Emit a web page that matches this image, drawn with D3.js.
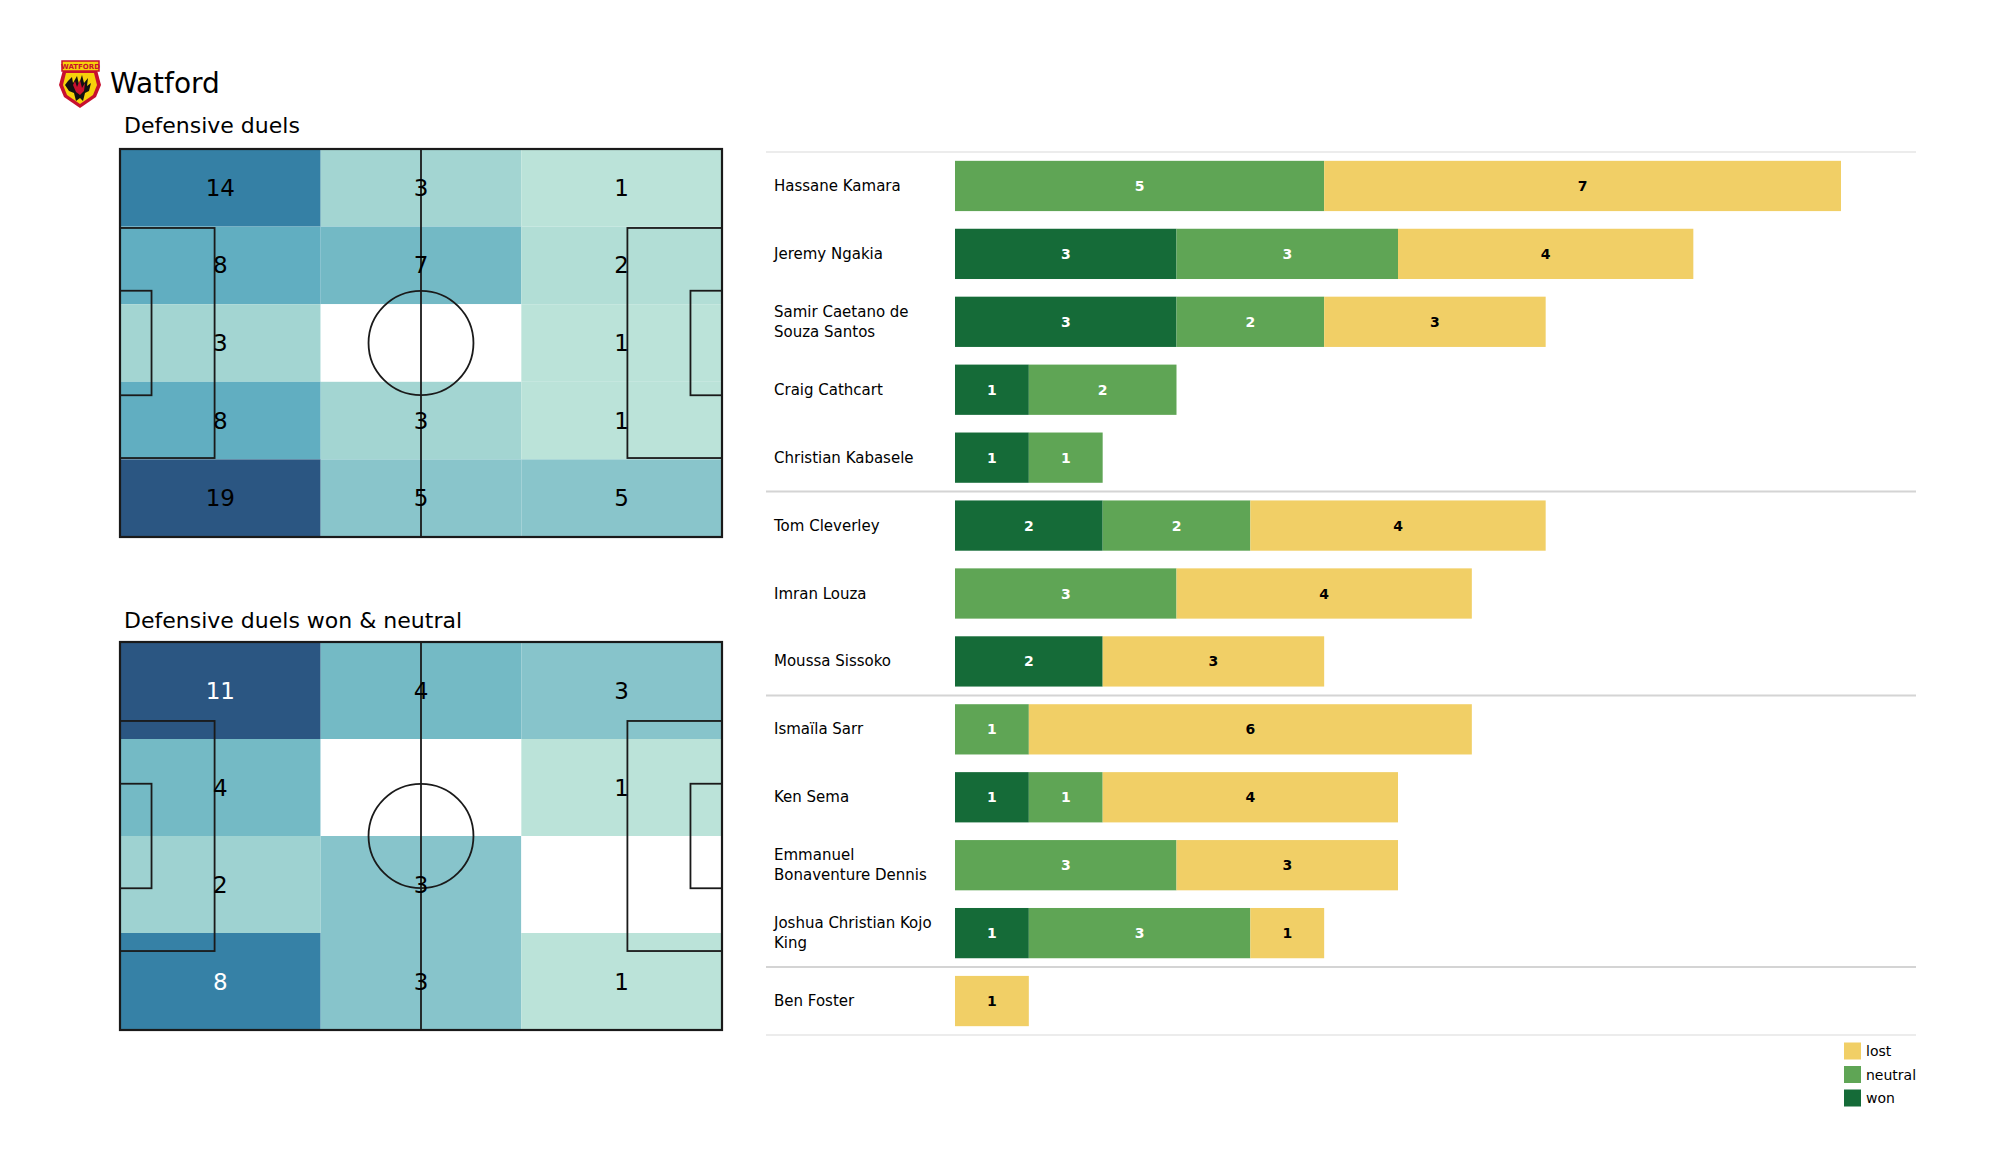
<!DOCTYPE html>
<html>
<head>
<meta charset="utf-8">
<script src="https://cdn.jsdelivr.net/npm/d3@7/dist/d3.min.js"></script>
<style>
  html, body { margin: 0; padding: 0; background: #ffffff; }
  svg { display: block; font-family: "DejaVu Sans", sans-serif; }
</style>
</head>
<body>
<svg id="chart" width="2000" height="1175"></svg>
<script>
// ---------------- DATA ----------------
const teamName = "Watford";
const heatTitle1 = "Defensive duels";
const heatTitle2 = "Defensive duels won & neutral";

// Heatmap 1: 5 rows (top to bottom) x 3 columns (left to right)
const duelsGrid = [
  [14, 3, 1],
  [8, 7, 2],
  [3, 0, 1],
  [8, 3, 1],
  [19, 5, 5]
];
// Heatmap 2: 4 rows x 3 columns
const wonNeutralGrid = [
  [11, 4, 3],
  [4, 0, 1],
  [2, 3, 0],
  [8, 3, 1]
];

const players = [
  "Hassane Kamara", "Jeremy Ngakia", "Samir Caetano de Souza Santos", "Craig Cathcart",
  "Christian Kabasele", "Tom Cleverley", "Imran Louza", "Moussa Sissoko",
  "Ismaïla Sarr", "Ken Sema", "Emmanuel Bonaventure Dennis", "Joshua Christian Kojo King",
  "Ben Foster"
];
const playerLabels = [
  "Hassane Kamara", "Jeremy Ngakia", "Samir Caetano de\nSouza Santos", "Craig Cathcart",
  "Christian Kabasele", "Tom Cleverley", "Imran Louza", "Moussa Sissoko",
  "Ismaïla Sarr", "Ken Sema", "Emmanuel\nBonaventure Dennis", "Joshua Christian Kojo\nKing",
  "Ben Foster"
];
const positions = ["DEF","DEF","DEF","DEF","DEF","MID","MID","MID","FWD","FWD","FWD","FWD","GK"];
const wonValues     = [0, 3, 3, 1, 1, 2, 0, 2, 0, 1, 0, 1, 0];
const neutralValues = [5, 3, 2, 2, 1, 2, 3, 0, 1, 1, 3, 3, 0];
const lostValues    = [7, 4, 3, 0, 0, 4, 4, 3, 6, 4, 3, 1, 1];
const seriesKeys = ["won", "neutral", "lost"];
const legendOrder = ["lost", "neutral", "won"];

// ---------------- STYLE ----------------
const segColors = { won: "#156b38", neutral: "#5fa555", lost: "#f1cf66" };
const segText = { won: "#ffffff", neutral: "#ffffff", lost: "#000000" };
const heatColor = d3.scaleLinear()
  .domain([0.05, 0.095, 0.11, 0.16, 0.265, 0.365, 0.42, 0.735, 1.0])
  .range(["#bbe3d9", "#bbe3d9", "#aedbd5", "#a3d5d2", "#89c5cb", "#74bac5", "#61aec1", "#3580a5", "#2b5682"])
  .clamp(true);

const svg = d3.select("#chart");

// ---------------- HEADER / LOGO ----------------
const logo = svg.append("g").attr("transform", "translate(59,61)");
logo.append("path")
  .attr("d", "M4,9 L38,9 L42,24 L37,36 L21,47 L5,36 L0,24 Z")
  .attr("fill", "#c8102e");
logo.append("path")
  .attr("d", "M7,12 L35,12 L38,24 L34,34 L21,43 L8,34 L4,24 Z")
  .attr("fill", "#f6d20b");
logo.append("path")
  .attr("d", "M9,20 L13,16 L14,22 L18,15 L20,23 L23,14 L25,22 L29,17 L28,25 L32,22 L30,30 L26,32 L24,40 L21,37 L17,40 L15,32 L10,30 L6,24 Z")
  .attr("fill", "#111111");
logo.append("path")
  .attr("d", "M14,24 L16,20 L18,26 L21,19 L23,27 L26,22 L25,30 L21,34 L17,31 Z")
  .attr("fill", "#c8102e");
logo.append("rect").attr("x", 3).attr("y", 0).attr("width", 37).attr("height", 10)
  .attr("fill", "#f6d20b").attr("stroke", "#c8102e").attr("stroke-width", 1.5);
logo.append("text").attr("x", 21.5).attr("y", 8).attr("text-anchor", "middle")
  .attr("font-size", 7).attr("font-weight", "bold").attr("fill", "#c8102e").text("WATFORD");

svg.append("text").attr("x", 110).attr("y", 93)
  .attr("font-size", 28).attr("fill", "#000").text(teamName);

// ---------------- PITCH HEATMAPS ----------------
function drawPitch(grid, top, bottom, title, titleY, whiteThreshold) {
  const x = d3.scaleLinear().domain([0, 105]).range([120, 722]);
  const y = d3.scaleLinear().domain([0, 68]).range([top, bottom]);
  const g = svg.append("g");
  const nRows = grid.length, nCols = grid[0].length;
  const maxV = d3.max(grid.flat());
  const cells = [];
  grid.forEach((row, r) => row.forEach((v, c) => cells.push({ r, c, v })));
  const cw = 105 / nCols, ch = 68 / nRows;

  g.selectAll("rect.cell").data(cells).join("rect")
    .attr("class", "cell")
    .attr("x", d => x(d.c * cw))
    .attr("y", d => y(d.r * ch))
    .attr("width", x(cw) - x(0))
    .attr("height", y(ch) - y(0))
    .attr("fill", d => d.v === 0 ? "#ffffff" : heatColor(d.v / maxV));

  const line = "#1a1a1a";
  const lw = 1.8;
  // outline
  g.append("rect").attr("x", x(0)).attr("y", y(0))
    .attr("width", x(105) - x(0)).attr("height", y(68) - y(0))
    .attr("fill", "none").attr("stroke", line).attr("stroke-width", 2.2);
  // halfway line
  g.append("line").attr("x1", x(52.5)).attr("x2", x(52.5)).attr("y1", y(0)).attr("y2", y(68))
    .attr("stroke", line).attr("stroke-width", lw);
  // centre circle
  g.append("ellipse").attr("cx", x(52.5)).attr("cy", y(34))
    .attr("rx", x(9.15) - x(0)).attr("ry", y(9.15) - y(0))
    .attr("fill", "none").attr("stroke", line).attr("stroke-width", lw);
  // boxes
  const boxes = [
    [0, 13.84, 16.5, 54.16], [0, 24.84, 5.5, 43.16],
    [88.5, 13.84, 105, 54.16], [99.5, 24.84, 105, 43.16]
  ];
  g.selectAll("rect.box").data(boxes).join("rect")
    .attr("class", "box")
    .attr("x", d => x(d[0])).attr("y", d => y(d[1]))
    .attr("width", d => x(d[2]) - x(d[0])).attr("height", d => y(d[3]) - y(d[1]))
    .attr("fill", "none").attr("stroke", line).attr("stroke-width", lw);

  // values
  g.selectAll("text.val").data(cells.filter(d => d.v > 0)).join("text")
    .attr("class", "val")
    .attr("x", d => x(d.c * cw + cw / 2))
    .attr("y", d => y(d.r * ch + ch / 2))
    .attr("text-anchor", "middle")
    .attr("dominant-baseline", "central")
    .attr("font-size", 23)
    .attr("fill", d => d.v / maxV > whiteThreshold ? "#ffffff" : "#000000")
    .text(d => d.v);

  svg.append("text").attr("x", 124).attr("y", titleY)
    .attr("font-size", 22).attr("fill", "#000").text(title);
}

drawPitch(duelsGrid, 149, 537, heatTitle1, 133, 2);
drawPitch(wonNeutralGrid, 642, 1030, heatTitle2, 628, 0.7);

// ---------------- STACKED BARS ----------------
const yBand = d3.scaleBand().domain(players).range([152, 1035])
  .paddingInner(0.26).paddingOuter(0.13);
const xBar = d3.scaleLinear().domain([0, 12]).range([955, 1841]);

const rows = players.map((p, i) => ({
  player: p, label: playerLabels[i], pos: positions[i],
  won: wonValues[i], neutral: neutralValues[i], lost: lostValues[i]
}));
const stacked = d3.stack().keys(seriesKeys)(rows);

const barG = svg.append("g");
// separator lines
const step = yBand.step();
const lineYs = [{ y: 152, strong: false }];
rows.forEach((d, i) => {
  if (i > 0 && rows[i - 1].pos !== d.pos) lineYs.push({ y: yBand(d.player) - yBand.paddingInner() * step / 2, strong: true });
});
lineYs.push({ y: 1035, strong: false });
barG.selectAll("line.sep").data(lineYs).join("line")
  .attr("class", "sep")
  .attr("x1", 766).attr("x2", 1916)
  .attr("y1", d => d.y).attr("y2", d => d.y)
  .attr("stroke", d => d.strong ? "#d4d4d4" : "#e6e6e6")
  .attr("stroke-width", d => d.strong ? 2 : 1.5);

stacked.forEach(layer => {
  const key = layer.key;
  const segs = layer.map((s, i) => ({ key, x0: s[0], x1: s[1], player: rows[i].player, v: rows[i][key] }))
    .filter(d => d.v > 0);
  barG.selectAll("rect.seg-" + key).data(segs).join("rect")
    .attr("class", "seg-" + key)
    .attr("x", d => xBar(d.x0))
    .attr("y", d => yBand(d.player))
    .attr("width", d => xBar(d.x1) - xBar(d.x0))
    .attr("height", yBand.bandwidth())
    .attr("fill", segColors[key]);
  barG.selectAll("text.lab-" + key).data(segs).join("text")
    .attr("class", "lab-" + key)
    .attr("x", d => (xBar(d.x0) + xBar(d.x1)) / 2)
    .attr("y", d => yBand(d.player) + yBand.bandwidth() / 2)
    .attr("text-anchor", "middle")
    .attr("dominant-baseline", "central")
    .attr("font-size", 14).attr("font-weight", "bold")
    .attr("fill", segText[key])
    .text(d => d.v);
});

// player name labels
const nameG = barG.selectAll("text.name").data(rows).join("text")
  .attr("class", "name")
  .attr("font-size", 15).attr("fill", "#000");
nameG.each(function(d) {
  const lines = d.label.split("\n");
  const cy = yBand(d.player) + yBand.bandwidth() / 2;
  const lh = 20;
  const t = d3.select(this);
  lines.forEach((ln, k) => {
    t.append("tspan").attr("x", 774)
      .attr("y", cy + (k - (lines.length - 1) / 2) * lh)
      .attr("dominant-baseline", "central")
      .text(ln);
  });
});

// ---------------- LEGEND ----------------
const legG = svg.append("g");
legendOrder.forEach((k, i) => {
  const cy = 1051 + i * 23.5;
  legG.append("rect").attr("x", 1844).attr("y", cy - 8.5).attr("width", 17).attr("height", 17)
    .attr("fill", segColors[k]);
  legG.append("text").attr("x", 1866).attr("y", cy).attr("dominant-baseline", "central")
    .attr("font-size", 14).attr("fill", "#000").text(k);
});
</script>
</body>
</html>
